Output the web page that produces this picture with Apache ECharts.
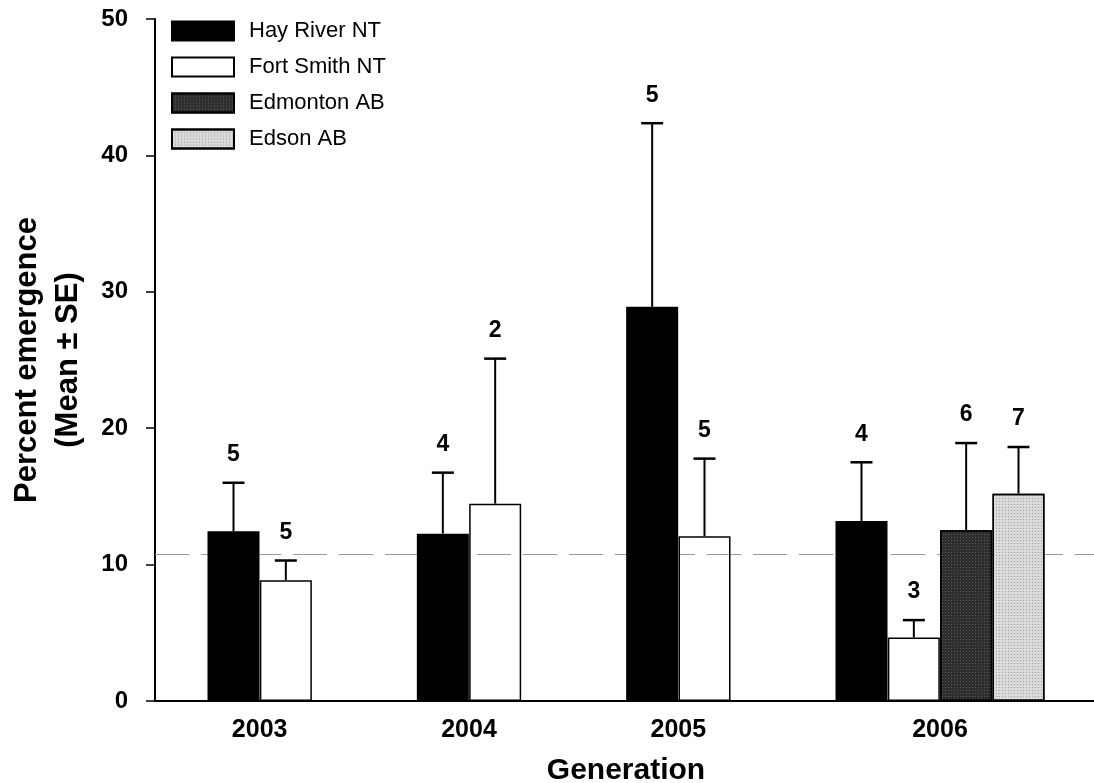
<!DOCTYPE html>
<html>
<head>
<meta charset="utf-8">
<script src="https://cdn.jsdelivr.net/npm/echarts@6/dist/echarts.min.js"></script>
<style>html,body{margin:0;padding:0;background:#fff}#chart{width:1094px;height:783px}</style>
</head>
<body>
<div id="chart"></div>
<script>
const years = ['2003', '2004', '2005', '2006'];
const sites = ['Hay River NT', 'Fort Smith NT', 'Edmonton AB', 'Edson AB'];
// mean percent emergence per year (null = not sampled)
const hayRiverMean   = [12.45, 12.27, 28.9, 13.2];
const fortSmithMean  = [8.86, 14.47, 12.08, 4.66];
const edmontonMean   = [null, null, null, 12.52];
const edsonMean      = [null, null, null, 15.2];
// standard error
const hayRiverSE   = [3.55, 4.47, 13.46, 4.3];
const fortSmithSE  = [1.44, 10.63, 5.69, 1.27];
const edmontonSE   = [null, null, null, 6.39];
const edsonSE      = [null, null, null, 3.42];
// sample sizes
const hayRiverN  = [5, 4, 5, 4];
const fortSmithN = [5, 2, 5, 3];
const edmontonN  = [null, null, null, 6];
const edsonN     = [null, null, null, 7];
// overall reference mean (dashed line)
const overallMean = 10.75;
const yTicks = [0, 10, 20, 30, 40, 50];

const means = [hayRiverMean, fortSmithMean, edmontonMean, edsonMean];
const ses = [hayRiverSE, fortSmithSE, edmontonSE, edsonSE];
const ns = [hayRiverN, fortSmithN, edmontonN, edsonN];

// layout: each year has 4 bar slots, one slot padding at the axis start
const slotsPerGroup = sites.length;
function barX(yi, si) { return 1 + slotsPerGroup * yi + si + 0.5; }
const labelPos = years.map((y, yi) => {
  const count = means.filter(m => m[yi] != null).length;
  return 1 + slotsPerGroup * yi + count / 2;
});

const FONT = '"Liberation Sans", Arial, Helvetica, sans-serif';
const fills = ['#000000', 'rgba(255,255,255,0)', '#2e2e2e', '#dadada'];
const decals = [
  null,
  null,
  { symbol: 'rect', symbolSize: 1, dashArrayX: [1, 2], dashArrayY: [1, 2], color: 'rgba(130,130,130,0.55)' },
  { symbol: 'rect', symbolSize: 1, dashArrayX: [1, 2], dashArrayY: [1, 2], color: 'rgba(90,90,90,0.45)' }
];

const barSeries = sites.map((name, si) => {
  const data = [];
  years.forEach((y, yi) => {
    if (means[si][yi] != null) data.push([barX(yi, si), means[si][yi]]);
  });
  const style = { color: fills[si], borderColor: '#000', borderWidth: 1.5 };
  if (decals[si]) style.decal = decals[si];
  const s = {
    name: name,
    type: 'bar',
    data: data,
    barWidth: 52,
    barGap: '-100%',
    z: 2,
    itemStyle: style
  };
  if (si === 0) {
    s.markLine = {
      silent: true,
      symbol: ['none', 'none'],
      z: 1,
      label: { show: false },
      lineStyle: { color: '#9a9a9a', width: 1, type: [34, 12] },
      data: [{ yAxis: overallMean }]
    };
  }
  return s;
});

const errData = [];
sites.forEach((name, si) => {
  years.forEach((y, yi) => {
    if (means[si][yi] != null) {
      errData.push([barX(yi, si), means[si][yi], means[si][yi] + ses[si][yi], ns[si][yi]]);
    }
  });
});

const errSeries = {
  type: 'custom',
  name: 'err',
  z: 4,
  data: errData,
  encode: { x: 0, y: [1, 2] },
  renderItem: function (params, api) {
    const x = api.value(0), m = api.value(1), u = api.value(2), n = api.value(3);
    const p0 = api.coord([x, m]);
    const p1 = api.coord([x, u]);
    return {
      type: 'group',
      children: [
        { type: 'line', shape: { x1: p0[0], y1: p0[1], x2: p1[0], y2: p1[1] }, style: { stroke: '#000', lineWidth: 2 } },
        { type: 'line', shape: { x1: p1[0] - 11, y1: p1[1], x2: p1[0] + 11, y2: p1[1] }, style: { stroke: '#000', lineWidth: 2.5 } },
        { type: 'text', style: { text: String(n), x: p1[0], y: p1[1] - 28, align: 'center', verticalAlign: 'middle', fontFamily: FONT, fontWeight: 'bold', fontSize: 23, fill: '#000' } }
      ]
    };
  }
};

const chart = echarts.init(document.getElementById('chart'), null, { renderer: 'canvas' });
chart.setOption({
  animation: false,
  backgroundColor: '#fff',
  aria: { enabled: false, decal: { show: false } },
  textStyle: { fontFamily: FONT },
  grid: { left: 155, top: 19, width: 942, bottom: 82, containLabel: false, outerBoundsMode: 'none' },
  legend: {
    data: sites,
    orient: 'vertical',
    left: 171,
    top: 20,
    padding: 0,
    itemWidth: 62,
    itemHeight: 19,
    itemGap: 14,
    icon: 'rect',
    selectedMode: false,
    textStyle: { fontFamily: FONT, fontSize: 22, color: '#000', lineHeight: 22, padding: [0, 0, 0, 10] }
  },
  xAxis: {
    type: 'value',
    min: 0,
    max: 18,
    name: 'Generation',
    nameLocation: 'middle',
    nameGap: 55,
    nameTextStyle: { fontFamily: FONT, fontWeight: 'bold', fontSize: 30, color: '#000' },
    axisLine: { show: true, lineStyle: { color: '#000', width: 2 } },
    axisTick: { show: false },
    splitLine: { show: false },
    axisLabel: {
      customValues: labelPos,
      margin: 17,
      fontFamily: FONT,
      fontWeight: 'bold',
      fontSize: 25,
      color: '#000',
      formatter: function (v) {
        for (let i = 0; i < labelPos.length; i++) {
          if (Math.abs(labelPos[i] - v) < 1e-6) return years[i];
        }
        return '';
      }
    }
  },
  yAxis: {
    type: 'value',
    min: yTicks[0],
    max: yTicks[yTicks.length - 1],
    interval: yTicks[1] - yTicks[0],
    name: 'Percent emergence\n(Mean ± SE)',
    nameLocation: 'middle',
    nameRotate: 90,
    nameGap: 66,
    nameTextStyle: { fontFamily: FONT, fontWeight: 'bold', fontSize: 31, lineHeight: 41, color: '#000', align: 'center' },
    axisLine: { show: true, lineStyle: { color: '#000', width: 2 } },
    axisTick: { show: true, inside: false, length: 9, lineStyle: { color: '#000', width: 1.5 } },
    splitLine: { show: false },
    axisLabel: { margin: 27, fontFamily: FONT, fontWeight: 'bold', fontSize: 24, color: '#000' }
  },
  series: barSeries.concat([errSeries])
});
</script>
</body>
</html>
